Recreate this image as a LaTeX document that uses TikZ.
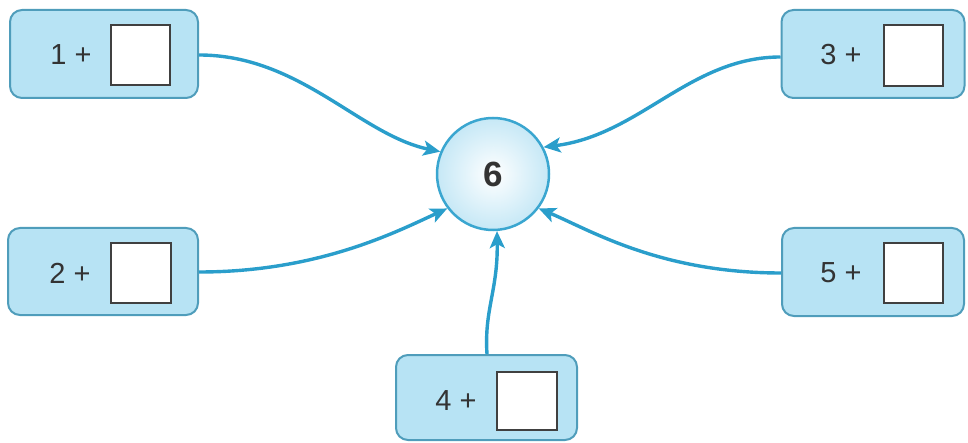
\documentclass[tikz,border=0pt]{standalone}
\usepackage{fontspec}
\setmainfont{Liberation Sans}
\usetikzlibrary{arrows.meta}
\definecolor{boxfill}{HTML}{B7E3F4}
\definecolor{boxline}{HTML}{4F9DBB}
\definecolor{sqline}{HTML}{404040}
\definecolor{arrcol}{HTML}{2A9ECB}
\definecolor{circline}{HTML}{3AA6D0}
\definecolor{circfill}{HTML}{C6E8F6}
\definecolor{txt}{HTML}{333333}
\begin{document}
\begin{tikzpicture}[x=1pt,y=-1pt,
  panel/.style={draw=boxline, fill=boxfill, line width=2pt, rounded corners=12pt, inner sep=0pt},
  answer/.style={draw=sqline, fill=white, line width=2.2pt, inner sep=0pt},
  lbl/.style={text=txt, font=\fontsize{29}{32}\selectfont, inner sep=0pt},
  arr/.style={draw=arrcol, line width=3.4pt, -{Stealth[length=17pt,width=15pt,inset=4pt]}}]
\useasboundingbox (0,0) rectangle (968,443);
% panels
\node[panel, minimum width=188pt, minimum height=88pt] (b1) at (104,54) {};
\node[panel, minimum width=190pt, minimum height=87pt] (b2) at (103,271.5) {};
\node[panel, minimum width=183pt, minimum height=88pt] (b3) at (873,54) {};
\node[panel, minimum width=182pt, minimum height=88pt] (b5) at (873,272) {};
\node[panel, minimum width=181pt, minimum height=85pt] (b4) at (486.5,397.5) {};
% squares
\node[answer, minimum width=59pt, minimum height=60pt] (s1) at (140.5,55) {};
\node[answer, minimum width=60pt, minimum height=60pt] (s2) at (141,273) {};
\node[answer, minimum width=59pt, minimum height=61pt] (s3) at (913.5,55.5) {};
\node[answer, minimum width=59pt, minimum height=60pt] (s5) at (913.5,273) {};
\node[answer, minimum width=60pt, minimum height=58pt] (s4) at (527,401) {};
% labels
\node[lbl] (t1) at (71,55) {1 +};
\node[lbl] (t2) at (70,273) {2 +};
\node[lbl] (t3) at (841,55) {3 +};
\node[lbl] (t5) at (841,273) {5 +};
\node[lbl] (t4) at (456,401) {4 +};
% centre
\node[circle, draw=circline, line width=2.5pt, inner color=white, outer color=circfill,
      minimum size=112pt, inner sep=0pt, text=txt, font=\bfseries\fontsize{35}{38}\selectfont] (c) at (493,174) {6};
% connectors
\draw[arr] (b1.east |- 0,55) .. controls (300,55) and (360,135) .. (c.157);
\draw[arr] (b3.west |- 0,57) .. controls (690,57) and (640,135) .. (c.28);
\draw[arr] (b2.east |- 0,272) .. controls (318,272) and (396,232) .. (c.217);
\draw[arr] (b5.west |- 0,273) .. controls (660,273) and (590,230) .. (c.-37);
\draw[arr] (b4.north -| 487,0) .. controls (484,310) and (498,290) .. (c.-86);
\end{tikzpicture}
\end{document}
